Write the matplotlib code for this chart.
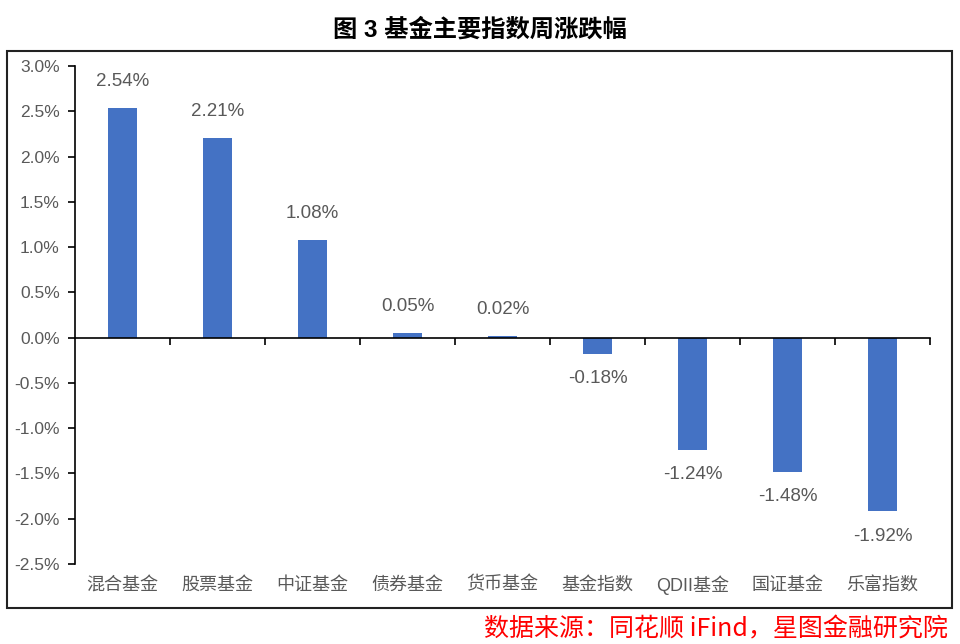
import matplotlib
matplotlib.use("Agg")
import matplotlib.pyplot as plt
from matplotlib.patches import Rectangle

plt.rcParams['font.family'] = ['Liberation Sans', 'Noto Sans CJK SC', 'DejaVu Sans']
plt.rcParams['axes.unicode_minus'] = False

title = "图 3 基金主要指数周涨跌幅"
categories = ["混合基金", "股票基金", "中证基金", "债券基金", "货币基金", "基金指数", "QDII基金", "国证基金", "乐富指数"]
values = [2.54, 2.21, 1.08, 0.05, 0.02, -0.18, -1.24, -1.48, -1.92]
y_ticks = [-2.5, -2.0, -1.5, -1.0, -0.5, 0.0, 0.5, 1.0, 1.5, 2.0, 2.5, 3.0]
source = "数据来源：同花顺 iFind，星图金融研究院"

bar_color = "#4472C4"
text_gray = "#595959"

fig = plt.figure(figsize=(9.6, 6.44), dpi=100)
ax = fig.add_axes([75/960, 1-564/644, (930-75)/960, (564-66)/644])

x = list(range(len(categories)))
ax.bar(x, values, width=0.31, color=bar_color, zorder=2)

for xi, v in zip(x, values):
    off = 19 if v >= 0 else -18
    ax.annotate(f"{v:.2f}%", (xi, v), xytext=(0, off), textcoords="offset points",
                ha="center", va="center", fontsize=13.5, color=text_gray)

ax.set_xlim(-0.5, len(categories) - 0.5)
ax.set_ylim(y_ticks[0], y_ticks[-1])
ax.set_yticks(y_ticks)
ax.set_yticklabels([f"{t:.1f}%" for t in y_ticks], fontsize=12.5, color=text_gray)
ax.tick_params(axis="y", direction="out", length=5, width=1.2, color="black", pad=6)

ax.spines["top"].set_visible(False)
ax.spines["right"].set_visible(False)
ax.spines["left"].set_linewidth(1.2)
ax.spines["bottom"].set_position(("data", 0))
ax.spines["bottom"].set_linewidth(1.2)
ax.set_xticks([i + 0.5 for i in x])
ax.set_xticklabels([])
ax.tick_params(axis="x", direction="out", length=5, width=1.2, color="black")

for xi, c in zip(x, categories):
    ax.text(xi, -0.042, c, transform=ax.get_xaxis_transform(), ha="center", va="center",
            fontsize=13, color=text_gray)

fig.text(0.5, 1 - 30/644, title, ha="center", va="center", fontsize=17.5, fontweight="bold",
         color="black")

frame = Rectangle((7/960, 1-608/644), (952-7)/960, (608-51)/644, transform=fig.transFigure,
                  fill=False, edgecolor="#222222", linewidth=1.5)
fig.patches.append(frame)

fig.text(948/960, 1 - 629/644, source, ha="right", va="center", fontsize=18,
         color="#FF0000", style="italic", family=['Noto Sans CJK SC', 'DejaVu Sans'])

fig.savefig("out.png", dpi=100)
